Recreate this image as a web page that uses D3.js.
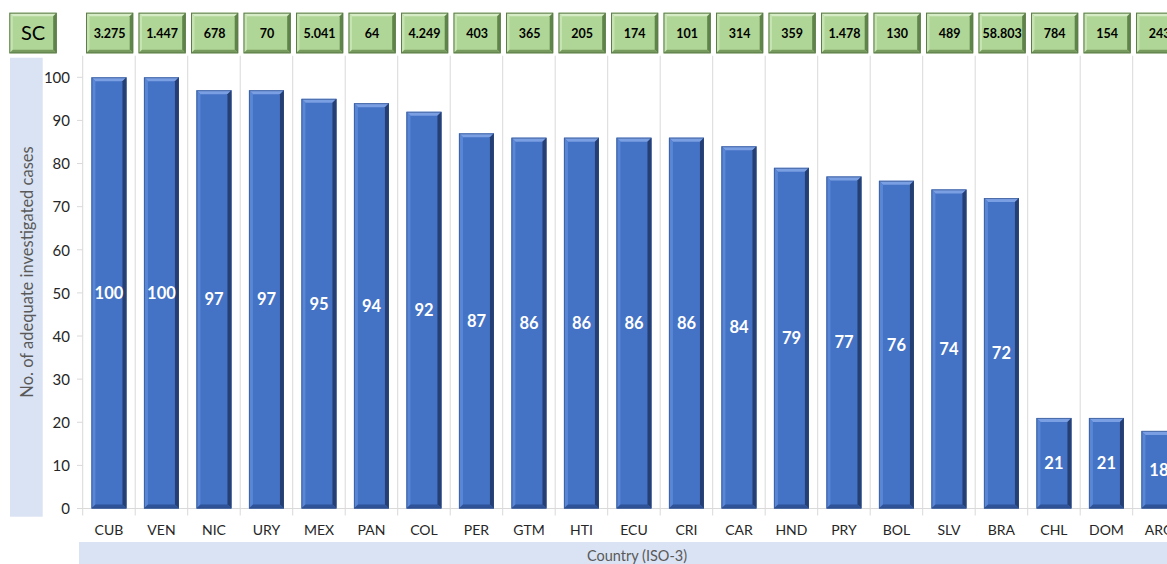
<!DOCTYPE html>
<html><head><meta charset="utf-8">
<script src="https://cdn.jsdelivr.net/npm/d3@7"></script>
<style>body{margin:0;background:#fff;}svg{display:block;font-family:Lato,"Open Sans",sans-serif;}</style>
</head><body>
<svg id="c" width="1167" height="564"></svg>
<script>
const countries = ["CUB","VEN","NIC","URY","MEX","PAN","COL","PER","GTM","HTI","ECU","CRI","CAR","HND","PRY","BOL","SLV","BRA","CHL","DOM","ARG"];
const values = [100,100,97,97,95,94,92,87,86,86,86,86,84,79,77,76,74,72,21,21,18];
const scValues = ["3.275","1.447","678","70","5.041","64","4.249","403","365","205","174","101","314","359","1.478","130","489","58.803","784","154","243"];
const yTicks = [0,10,20,30,40,50,60,70,80,90,100];

(function(){
const svg = d3.select("#c");
const plotLeft = 82.7, step = 52.5, plotTop = 77.3, plotBottom = 508.5;
const x = d3.scaleBand().domain(countries).range([plotLeft, plotLeft + countries.length*step]).paddingInner(0.333).paddingOuter(0.1667);
const y = d3.scaleLinear().domain([0,100]).range([plotBottom, plotTop]);
const st = x.step();
const bandStart = c => x(c) - st*x.paddingInner()/2;

// axis title bands
svg.append("rect").attr("x",10).attr("y",57.7).attr("width",32.7).attr("height",459).attr("fill","#dae3f3");
svg.append("rect").attr("x",79).attr("y",542).attr("width",1167-79).attr("height",22).attr("fill","#dae3f3");
svg.append("text").attr("x",637).attr("y",561).attr("text-anchor","middle").attr("font-size",14.5).attr("fill","#595959").text("Country (ISO-3)");
svg.append("text").attr("transform","translate(33,272) rotate(-90)").attr("text-anchor","middle").attr("font-size",16.5).attr("fill","#595959").text("No. of adequate investigated cases");

// gridlines (category separators)
const gl = svg.append("g").attr("stroke","#d9d9d9").attr("stroke-width",1);
countries.concat([null]).forEach((c,i)=>{
  const gx = c ? bandStart(c) : bandStart(countries[countries.length-1]) + st;
  gl.append("line").attr("x1",gx).attr("x2",gx).attr("y1",55.7).attr("y2",515.5);
});
gl.append("line").attr("x1",plotLeft).attr("x2",1167).attr("y1",plotBottom).attr("y2",plotBottom);
yTicks.forEach(t=>{
  gl.append("line").attr("x1",77).attr("x2",plotLeft).attr("y1",y(t)).attr("y2",y(t));
});

// y tick labels
const ya = d3.axisLeft(y).tickValues(yTicks).tickSize(0).tickPadding(0);
const yg = svg.append("g").attr("transform","translate(70,0)").call(ya);
yg.select(".domain").remove();
yg.selectAll("text").attr("font-family","Lato").attr("font-size",15).attr("fill","#262626").attr("dy","0.35em");

// x labels
const xa = d3.axisBottom(x).tickSize(0).tickPadding(0);
const xg = svg.append("g").attr("transform","translate(0,535)").call(xa);
xg.select(".domain").remove();
xg.selectAll("text").attr("font-family","Lato").attr("font-size",14).attr("fill","#262626").attr("dy","0");

// bars with bevel
const b = 4;
const bars = svg.append("g");
countries.forEach((c,i)=>{
  const x0 = x(c), x1 = x(c)+x.bandwidth(), y0 = y(values[i]), y1 = y(0);
  const g = bars.append("g");
  g.append("rect").attr("x",x0).attr("y",y0).attr("width",x1-x0).attr("height",y1-y0).attr("fill","#4472c4");
  const poly = (pts,fill)=>g.append("polygon").attr("points",pts.map(p=>p.join(",")).join(" ")).attr("fill",fill);
  poly([[x0,y0],[x1,y0],[x1-b,y0+b],[x0+b,y0+b]],"#7a9fe2");
  poly([[x0,y0],[x0+b,y0+b],[x0+b,y1-b],[x0,y1]],"#5a86d6");
  poly([[x1,y0],[x1,y1],[x1-b,y1-b],[x1-b,y0+b]],"#253f73");
  poly([[x0,y1],[x1,y1],[x1-b,y1-b],[x0+b,y1-b]],"#2f5398");
  g.append("rect").attr("x",x0+0.5).attr("y",y0+0.5).attr("width",x1-x0-1).attr("height",y1-y0-1).attr("fill","none").attr("stroke","#2c4a82").attr("stroke-width",1).attr("stroke-opacity",0.6);
  g.append("text").attr("x",(x0+x1)/2).attr("y",(y0+y1)/2).attr("dy","0.36em").attr("text-anchor","middle")
    .attr("font-size",16.5).attr("font-weight","bold").attr("fill","#fff").text(values[i]);
});

// green beveled boxes
function greenBox(bx,by,w,h,label,fs,fw){
  const g = svg.append("g");
  const bb = 3.5, x0=bx, x1=bx+w, y0=by, y1=by+h;
  g.append("rect").attr("x",x0).attr("y",y0).attr("width",w).attr("height",h).attr("fill","#b0d697");
  const poly = (pts,fill)=>g.append("polygon").attr("points",pts.map(p=>p.join(",")).join(" ")).attr("fill",fill);
  poly([[x0,y0],[x1,y0],[x1-bb,y0+bb],[x0+bb,y0+bb]],"#d6ecc6");
  poly([[x0,y0],[x0+bb,y0+bb],[x0+bb,y1-bb],[x0,y1]],"#c6e3b2");
  poly([[x1,y0],[x1,y1],[x1-bb,y1-bb],[x1-bb,y0+bb]],"#5f844a");
  poly([[x0,y1],[x1,y1],[x1-bb,y1-bb],[x0+bb,y1-bb]],"#76995e");
  g.append("rect").attr("x",x0+0.5).attr("y",y0+0.5).attr("width",w-1).attr("height",h-1).attr("fill","none").attr("stroke","#5f7d4c").attr("stroke-width",1);
  g.append("text").attr("x",(x0+x1)/2).attr("y",(y0+y1)/2).attr("dy","0.36em").attr("text-anchor","middle")
    .attr("font-size",fs).attr("font-weight",fw).attr("fill","#000").text(label);
}
greenBox(9.3,12.7,47.4,40.6,"SC",20,"normal");
countries.forEach((c,i)=>{
  greenBox(bandStart(c)+3.3,12.7,47.2,40.6,scValues[i],12.5,"bold");
});
})();
</script>
</body></html>
